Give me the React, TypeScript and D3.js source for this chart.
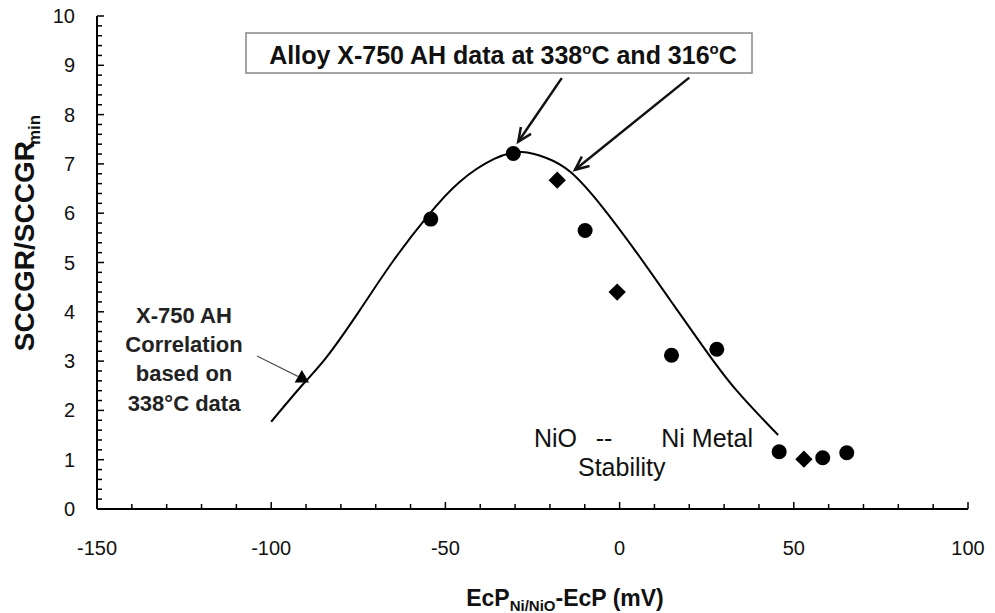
import React from "react";
import * as d3 from "d3";

// ---- data ----
const circleX = [-54.2, -30.5, -9.9, 14.9, 27.9, 45.8, 58.3, 65.2];
const circleY = [5.88, 7.21, 5.65, 3.12, 3.24, 1.16, 1.04, 1.14];
const diamondX = [-17.9, -0.7, 52.9];
const diamondY = [6.67, 4.4, 1.01];
const triangleX = [-91.2];
const triangleY = [2.65];
const curveX = [-100, -91, -84, -74.5, -65, -55, -46, -36, -28, -21, -14, -5, 5, 14.5, 24, 33.5, 45.5];
const curveY = [1.77, 2.52, 3.09, 4.04, 5.03, 5.95, 6.63, 7.1, 7.24, 7.12, 6.83, 6.13, 5.19, 4.24, 3.29, 2.41, 1.5];
const xMajorTicks = [-150, -100, -50, 0, 50, 100];
const yMajorTicks = [0, 1, 2, 3, 4, 5, 6, 7, 8, 9, 10];
// arrows of the top annotation, in data units: [fromX, fromY, toX, toY]
const arrowsData = [
  [-16.6, 8.74, -29.1, 7.45],
  [20.0, 8.75, -12.8, 6.88],
];

const W = 995;
const H = 613;
const FONT = "'Liberation Sans', Arial, sans-serif";

export default function App() {
  const x = d3.scaleLinear().domain([-150, 100]).range([97, 968]);
  const y = d3.scaleLinear().domain([0, 10]).range([509, 16]);

  const xMinor = d3.range(-150, 100.001, 10);
  const yMinor = d3.range(0, 10.001, 0.2);

  const line = d3
    .line<number>()
    .x((_, i) => x(curveX[i]))
    .y((d) => y(d))
    .curve(d3.curveNatural);

  const diamond = d3.symbol().type(d3.symbolSquare).size(150)();
  const tri = d3.symbol().type(d3.symbolTriangle).size(90)();

  const arrowHead = (x1: number, y1: number, x2: number, y2: number, len = 15, ang = 0.42) => {
    const a = Math.atan2(y2 - y1, x2 - x1);
    const p1 = [x2 - len * Math.cos(a - ang), y2 - len * Math.sin(a - ang)];
    const p2 = [x2 - len * Math.cos(a + ang), y2 - len * Math.sin(a + ang)];
    return `M${p1[0]},${p1[1]}L${x2},${y2}L${p2[0]},${p2[1]}`;
  };

  return (
    <div style={{ position: "absolute", left: 0, top: 0 }}>
      <svg width={W} height={H} style={{ display: "block", background: "#fff" }} fontFamily={FONT}>
        <rect x={0} y={0} width={W} height={H} fill="#fff" />

        {/* axes */}
        <line x1={x(-150)} x2={x(100)} y1={y(0)} y2={y(0)} stroke="#000" strokeWidth={2} />
        <line x1={x(-150)} x2={x(-150)} y1={y(0)} y2={y(10)} stroke="#000" strokeWidth={2} />
        {xMinor.map((v) => {
          const major = xMajorTicks.some((m) => Math.abs(m - v) < 1e-6);
          return (
            <line key={"xt" + v} x1={x(v)} x2={x(v)} y1={y(0)} y2={y(0) - (major ? 7 : 5)} stroke="#000" strokeWidth={1.5} />
          );
        })}
        {yMinor.map((v) => {
          const major = Math.abs(v - Math.round(v)) < 1e-6;
          return (
            <line key={"yt" + v.toFixed(1)} x1={x(-150)} x2={x(-150) + (major ? 7 : 5)} y1={y(v)} y2={y(v)} stroke="#000" strokeWidth={1.5} />
          );
        })}
        {xMajorTicks.map((v) => (
          <text key={"xl" + v} x={x(v)} y={555} textAnchor="middle" fontSize={20} fill="#111">
            {v}
          </text>
        ))}
        {yMajorTicks.map((v) => (
          <text key={"yl" + v} x={75} y={y(v) + 7} textAnchor="end" fontSize={20} fill="#111">
            {v}
          </text>
        ))}

        {/* axis titles */}
        <text x={565} y={606} textAnchor="middle" fontSize={23} fontWeight="bold" fill="#111">
          EcP
          <tspan fontSize={15} dy={5}>Ni/NiO</tspan>
          <tspan dy={-5}>-EcP (mV)</tspan>
        </text>
        <text transform="translate(34,233) rotate(-90)" textAnchor="middle" fontSize={28} fontWeight="bold" fill="#111">
          SCCGR/SCCGR
          <tspan fontSize={17} dy={6} dx={-4}>min</tspan>
        </text>

        {/* correlation curve */}
        <path d={line(curveY) || ""} fill="none" stroke="#000" strokeWidth={2} />

        {/* data points */}
        {circleX.map((v, i) => (
          <circle key={"c" + i} cx={x(v)} cy={y(circleY[i])} r={7.5} fill="#000" />
        ))}
        {diamondX.map((v, i) => (
          <path key={"d" + i} d={diamond || ""} transform={`translate(${x(v)},${y(diamondY[i])}) rotate(45)`} fill="#000" />
        ))}
        {triangleX.map((v, i) => (
          <path key={"t" + i} d={tri || ""} transform={`translate(${x(v)},${y(triangleY[i])})`} fill="#000" />
        ))}

        {/* left annotation */}
        <line x1={257} y1={356} x2={x(triangleX[0]) - 4} y2={y(triangleY[0]) - 2} stroke="#555" strokeWidth={1.2} />
        <g fontSize={22} fontWeight="bold" fill="#222" textAnchor="middle">
          <text x={184} y={323}>X-750 AH</text>
          <text x={184} y={352}>Correlation</text>
          <text x={184} y={381}>based on</text>
          <text x={184} y={411}>338°C data</text>
        </g>

        {/* stability annotation */}
        <g fontSize={25} fill="#111">
          <text x={534} y={447}>NiO</text>
          <text x={604} y={447} textAnchor="middle">--</text>
          <text x={753} y={447} textAnchor="end">Ni Metal</text>
          <text x={578} y={476}>Stability</text>
        </g>

        {/* top annotation box and arrows */}
        <rect x={246} y={33} width={506} height={40} fill="#fff" stroke="#888" strokeWidth={1.5} />
        <text x={503} y={64} textAnchor="middle" fontSize={25} fontWeight="bold" fill="#111">
          Alloy X-750 AH data at 338
          <tspan fontSize={15} dy={-10}>o</tspan>
          <tspan dy={10}>C and 316</tspan>
          <tspan fontSize={15} dy={-10}>o</tspan>
          <tspan dy={10}>C</tspan>
        </text>
        {arrowsData.map((a, i) => {
          const x1 = x(a[0]), y1 = y(a[1]), x2 = x(a[2]), y2 = y(a[3]);
          return (
            <g key={"ar" + i} stroke="#111" strokeWidth={2.5} fill="none">
              <line x1={x1} y1={y1} x2={x2} y2={y2} />
              <path d={arrowHead(x1, y1, x2, y2)} />
            </g>
          );
        })}
      </svg>
    </div>
  );
}
